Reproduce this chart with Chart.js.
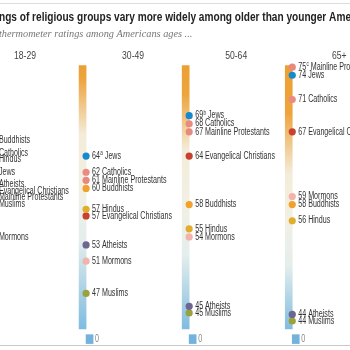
<!DOCTYPE html>
<html>
<head>
<meta charset="utf-8">
<script src="https://cdn.jsdelivr.net/npm/chart.js@4.4.1/dist/chart.umd.min.js"></script>
<style>
  html, body { margin: 0; padding: 0; background: #fff; overflow: hidden; }
</style>
</head>
<body>
<canvas id="chart" width="350" height="350"></canvas>
<script>
// age columns (18-29 sits mostly off the left edge in the crop)
const ageGroups = ["18-29", "30-49", "50-64", "65+"];
const groups = ["Buddhists", "Catholics", "Hindus", "Jews", "Atheists",
  "Evangelical Christians", "Mainline Protestants", "Muslims", "Mormons"];
const groupColors = ["#f2a12c", "#ea8b7f", "#e2ad2c", "#1789cf", "#6e6590",
  "#c9402e", "#e8897e", "#99a23c", "#f3b3aa"];

// mean thermometer ratings, same order as groups
const ratings1829 = [66, 64, 64, 62, 60, 60, 59, 58, 54];
const ratings3049 = [60, 62, 57, 64, 53, 57, 61, 47, 51];
const ratings5064 = [58, 68, 55, 69, 45, 64, 67, 45, 54];
const ratings65 = [58, 71, 56, 74, 44, 67, 75, 44, 59];
const topNotes = ["", "a", "b", "c"];

// thermometer tube range and the little "0" stub below the break
const tubeRange = [42.6, 75.2];
const zeroRange = [40.8, 41.9];

const allRatings = [ratings1829, ratings3049, ratings5064, ratings65];

// where the orange fades out / the blue starts, per column (fraction of tube)
const orangeEnd = [0.03, 0.05, 0.11, 0.18];
const creamStart = [0.22, 0.26, 0.32, 0.41];
const creamEnd = [0.6, 0.66, 0.72, 0.76];
const headerDx = [42, 47, 47, 47];

const sansFont = '"Liberation Sans", Arial, sans-serif';

function tubeGradient(c) {
  const chart = c.chart;
  if (!chart.chartArea) return "#f3eee0";
  const y = chart.scales.y;
  const i = c.dataIndex;
  const g = chart.ctx.createLinearGradient(0, y.getPixelForValue(tubeRange[1]), 0, y.getPixelForValue(tubeRange[0]));
  g.addColorStop(0, "#ec9f33");
  g.addColorStop(orangeEnd[i], "#eea43d");
  g.addColorStop(creamStart[i], "#f3ecd9");
  g.addColorStop((creamStart[i] + creamEnd[i]) / 2, "#f2f0e4");
  g.addColorStop(creamEnd[i], "#e4eeec");
  g.addColorStop(1, "#7fbce0");
  return g;
}

// narrow text: the source font is a condensed gothic, so squeeze horizontally
function narrowText(ctx, text, x, y, sx) {
  ctx.save();
  ctx.translate(x, y);
  ctx.scale(sx, 1);
  ctx.fillText(text, 0, 0);
  ctx.restore();
  return ctx.measureText(text).width * sx;
}

// spread labels (and tied dots) of one column so they don't collide
function dodge(ys, i) {
  const items = groups.map((name, k) => ({ name, v: allRatings[i][k], k }));
  items.sort((a, b) => b.v - a.v || a.k - b.k);
  items.forEach(it => { it.ly = ys.getPixelForValue(it.v); });
  const gap = 6.6;
  for (let n = 0; n < 60; n++) {
    for (let j = 1; j < items.length; j++) {
      const d = items[j].ly - items[j - 1].ly;
      if (d < gap) {
        const push = (gap - d) / 2;
        items[j - 1].ly -= push;
        items[j].ly += push;
      }
    }
  }
  return items;
}

const datasets = [];
groups.forEach((name, k) => {
  datasets.push({
    type: "scatter",
    label: name,
    data: ageGroups.map((a, i) => ({ x: i, y: allRatings[i][k] })),
    backgroundColor: groupColors[k],
    borderColor: groupColors[k],
    borderWidth: 0,
    pointRadius: 3.6,
    order: 1
  });
});
datasets.push({
  type: "bar",
  label: "tube",
  data: ageGroups.map((a, i) => ({ x: i, y: tubeRange })),
  backgroundColor: tubeGradient,
  barThickness: 7,
  order: 10
});
datasets.push({
  type: "bar",
  label: "zero",
  data: ageGroups.map((a, i) => ({ x: i, y: zeroRange })),
  backgroundColor: "#72b2dc",
  barThickness: 7,
  order: 10
});

const textPlugin = {
  id: "textPlugin",
  beforeDraw(chart) {
    const ctx = chart.ctx;
    ctx.save();
    ctx.fillStyle = "#fff";
    ctx.fillRect(0, 0, chart.width, chart.height);
    ctx.strokeStyle = "#dcdcdc";
    ctx.lineWidth = 1;
    ctx.beginPath();
    ctx.moveTo(0, 3.5); ctx.lineTo(350, 3.5);
    ctx.stroke();
    ctx.strokeStyle = "#c8c8c8";
    ctx.beginPath();
    ctx.moveTo(0, 345.5); ctx.lineTo(350, 345.5);
    ctx.stroke();

    ctx.textBaseline = "alphabetic";
    ctx.textAlign = "left";
    ctx.fillStyle = "#222";
    ctx.font = "bold 13px " + sansFont;
    const shown = "ngs of religious groups vary more widely among older than younger Ame";
    const tsx = 352 / ctx.measureText(shown).width;
    const lead = ctx.measureText("Rati").width * tsx;
    narrowText(ctx, "Ratings of religious groups vary more widely among older than younger Americans", -1 - lead, 21, tsx);

    ctx.fillStyle = "#777";
    ctx.font = "italic 10.3px \"Liberation Serif\", serif";
    ctx.fillText("Average thermometer ratings among Americans ages ...",
      -1 - ctx.measureText("Average ").width, 37);
    ctx.restore();
  },
  beforeDatasetsDraw(chart) {
    // move tied dots next to their labels
    const ys = chart.scales.y;
    ageGroups.forEach((age, i) => {
      dodge(ys, i).forEach(it => {
        const el = chart.getDatasetMeta(it.k).data[i];
        if (el) el.y = it.ly;
      });
    });
  },
  afterDatasetsDraw(chart) {
    const ctx = chart.ctx;
    const xs = chart.scales.x, ys = chart.scales.y;
    ctx.save();
    ctx.textBaseline = "middle";
    ctx.textAlign = "left";
    ctx.font = "10px " + sansFont;
    const lsx = 70 / ctx.measureText("Evangelical Christians").width;
    ageGroups.forEach((age, i) => {
      const cx = xs.getPixelForValue(i);
      // column header
      ctx.font = "10.5px " + sansFont;
      ctx.fillStyle = "#444";
      const hw = ctx.measureText(age).width * 0.82;
      narrowText(ctx, age, cx + headerDx[i] - hw / 2, 56, 0.82);

      const items = dodge(ys, i);
      ctx.fillStyle = "#333";
      items.forEach((it, j) => {
        const x0 = cx + 6;
        ctx.font = "10px " + sansFont;
        const num = String(it.v);
        let w = narrowText(ctx, num, x0, it.ly, lsx);
        if (j === 0 && topNotes[i]) {
          ctx.font = "6.5px " + sansFont;
          w += 0.3 + narrowText(ctx, topNotes[i], x0 + w + 0.3, it.ly - 2.5, lsx);
          ctx.font = "10px " + sansFont;
        }
        narrowText(ctx, " " + it.name, x0 + w, it.ly, lsx);
      });

      // zero stub label
      ctx.fillStyle = "#888";
      ctx.font = "10px " + sansFont;
      narrowText(ctx, "0", cx + 9, ys.getPixelForValue((zeroRange[0] + zeroRange[1]) / 2), lsx);
    });
    ctx.restore();
  }
};

new Chart(document.getElementById("chart"), {
  type: "bar",
  data: { datasets: datasets },
  options: {
    responsive: false,
    animation: false,
    layout: { padding: { top: 51, bottom: 2.4, left: 0, right: 0 } },
    plugins: { legend: { display: false }, tooltip: { enabled: false } },
    scales: {
      x: { type: "linear", offset: false, min: 0.2038, max: 3.5213, display: false },
      y: { min: 40.5, max: 77, display: false }
    }
  },
  plugins: [textPlugin]
});
</script>
</body>
</html>
